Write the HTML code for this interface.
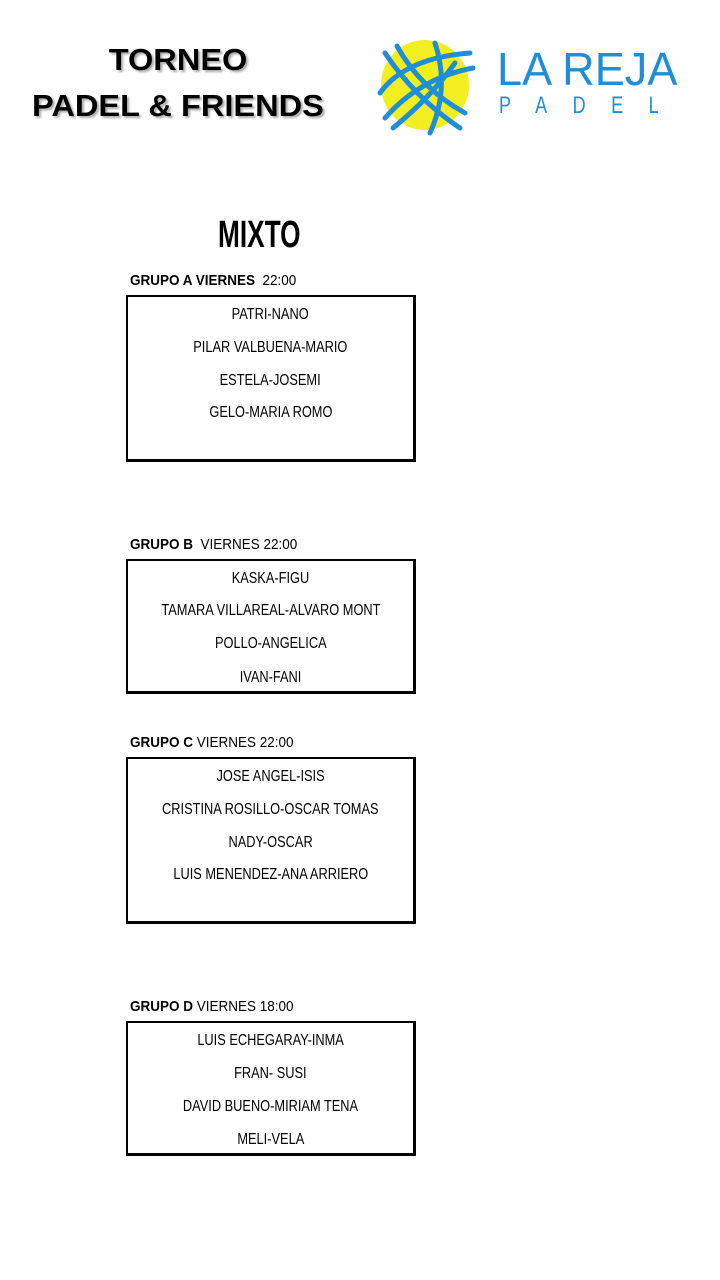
<!DOCTYPE html>
<html><head><meta charset="utf-8"><style>
body{margin:0;width:720px;height:1280px;background:#fff;position:relative;overflow:hidden;font-family:"Liberation Sans Narrow","Liberation Sans",sans-serif;}
.t{position:absolute;white-space:nowrap;transform-origin:left top;}
.box{position:absolute;left:126px;width:285px;border:2px solid #000;border-width:2px 3px 3px 2px;}
.n{position:absolute;left:0;width:100%;text-align:center;font-size:16px;line-height:18px;}
.n span{display:inline-block;transform:scaleX(0.8);}
.h{position:absolute;left:130px;font-size:15px;line-height:16px;white-space:nowrap;transform:scaleX(0.9);transform-origin:left top;}
.big{position:absolute;text-align:center;font-weight:bold;font-size:31px;text-shadow:2px 2px 2px #aaa;}
</style></head><body>
<div class="big" style="left:28px;width:300px;top:42px;"><span style="display:inline-block;transform:scaleX(1.05)">TORNEO</span></div>
<div class="big" style="left:28px;width:300px;top:88px;"><span style="display:inline-block;transform:scaleX(1.05)">PADEL &amp; FRIENDS</span></div>
<svg style="position:absolute;left:375px;top:38px" width="110" height="100">
<ellipse cx="50" cy="47" rx="44" ry="45" fill="#f2ee20"/>
<g stroke="#1e8fd6" stroke-width="5" fill="none" stroke-linecap="round">
<path d="M10 15 Q40 60 85 90"/><path d="M22 8 Q45 50 90 75"/><path d="M5 55 Q30 20 95 15"/><path d="M10 80 Q45 40 98 30"/><path d="M18 90 Q55 60 80 25"/><path d="M60 5 Q75 50 55 95"/>
</g></svg>
<div class="t" style="left:497px;top:42px;font-family:'Liberation Sans',sans-serif;font-size:46px;color:#1e8fd6;transform:scaleX(0.98);">LA REJA</div>
<div class="t" style="left:499px;top:92px;font-family:'Liberation Sans',sans-serif;font-size:24px;color:#1e8fd6;letter-spacing:34px;transform:scaleX(0.75);">PADEL</div>
<div class="t" style="left:218px;top:214px;font-size:38px;font-weight:bold;transform:scaleX(0.69);">MIXTO</div>

<div class="h" style="top:273px"><b>GRUPO A VIERNES</b>&nbsp; 22:00</div>
<div class="box" style="top:295px;height:162px;">
<div class="n" style="top:9px"><span>PATRI-NANO</span></div>
<div class="n" style="top:42px"><span>PILAR VALBUENA-MARIO</span></div>
<div class="n" style="top:75px"><span>ESTELA-JOSEMI</span></div>
<div class="n" style="top:107px"><span>GELO-MARIA ROMO</span></div>
</div>

<div class="h" style="top:537px"><b>GRUPO B</b>&nbsp; VIERNES 22:00</div>
<div class="box" style="top:559px;height:130px;">
<div class="n" style="top:9px"><span>KASKA-FIGU</span></div>
<div class="n" style="top:41px"><span>TAMARA VILLAREAL-ALVARO MONT</span></div>
<div class="n" style="top:74px"><span>POLLO-ANGELICA</span></div>
<div class="n" style="top:108px"><span>IVAN-FANI</span></div>
</div>

<div class="h" style="top:735px"><b>GRUPO C</b> VIERNES 22:00</div>
<div class="box" style="top:757px;height:162px;">
<div class="n" style="top:9px"><span>JOSE ANGEL-ISIS</span></div>
<div class="n" style="top:42px"><span>CRISTINA ROSILLO-OSCAR TOMAS</span></div>
<div class="n" style="top:75px"><span>NADY-OSCAR</span></div>
<div class="n" style="top:107px"><span>LUIS MENENDEZ-ANA ARRIERO</span></div>
</div>

<div class="h" style="top:999px"><b>GRUPO D</b> VIERNES 18:00</div>
<div class="box" style="top:1021px;height:130px;">
<div class="n" style="top:9px"><span>LUIS ECHEGARAY-INMA</span></div>
<div class="n" style="top:42px"><span>FRAN- SUSI</span></div>
<div class="n" style="top:75px"><span>DAVID BUENO-MIRIAM TENA</span></div>
<div class="n" style="top:108px"><span>MELI-VELA</span></div>
</div>
</body></html>
